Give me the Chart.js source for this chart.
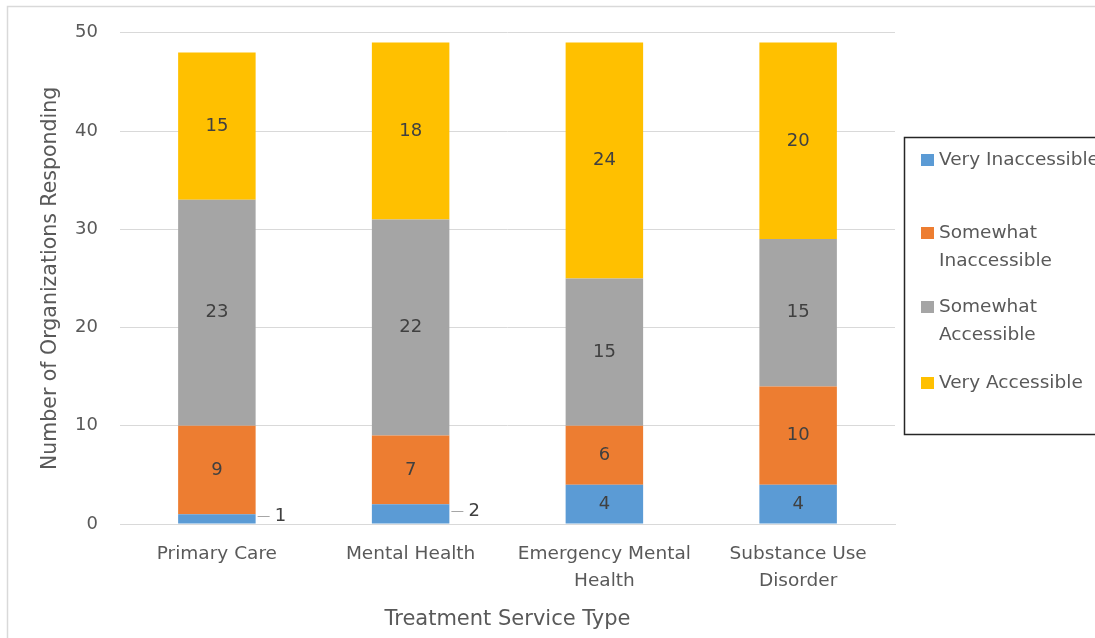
<!DOCTYPE html>
<html>
<head>
<meta charset="utf-8">
<script src="https://cdn.jsdelivr.net/npm/chart.js@4.4.0/dist/chart.umd.min.js"></script>
<style>
  html, body { margin: 0; padding: 0; background: #fff; }
  #wrap { width: 1095px; height: 638px; position: relative; }
</style>
</head>
<body>
<div id="wrap"><canvas id="chart"></canvas></div>
<script>
// service types along the x axis
var categories = [
    'Primary Care',
    'Mental Health',
    ['Emergency Mental', 'Health'],
    ['Substance Use', 'Disorder']
];

// responses per accessibility rating
var veryInaccessible = [1, 2, 4, 4];
var somewhatInaccessible = [9, 7, 6, 10];
var somewhatAccessible = [23, 22, 15, 15];
var veryAccessible = [15, 18, 24, 20];

var seriesNames = ['Very Inaccessible', 'Somewhat Inaccessible', 'Somewhat Accessible', 'Very Accessible'];
var legendLines = [
    ['Very Inaccessible'],
    ['Somewhat', 'Inaccessible'],
    ['Somewhat', 'Accessible'],
    ['Very Accessible']
];
var yTicks = [0, 10, 20, 30, 40, 50];

var colors = [
    '#5B9BD5', // very inaccessible
    '#ED7D31', // somewhat inaccessible
    '#A5A5A5', // somewhat accessible
    '#FFC000'  // very accessible
];

var FONT = "'DejaVu Sans', 'Open Sans', sans-serif";
var TEXT = '#595959';

// value labels in the middle of each segment, tiny ones pulled out to the right
var segmentLabels = {
    id: 'segmentLabels',
    afterDatasetsDraw: function (chart) {
        var ctx = chart.ctx;
        ctx.save();
        ctx.font = '18px ' + FONT;
        ctx.textBaseline = 'middle';
        ctx.fillStyle = '#404040';
        chart.data.datasets.forEach(function (ds, i) {
            var meta = chart.getDatasetMeta(i);
            meta.data.forEach(function (bar, j) {
                var v = ds.data[j];
                var p = bar.getProps(['x', 'y', 'base', 'width'], true);
                var cy = (p.y + p.base) / 2;
                if (v < 3) {
                    var x0 = p.x + p.width / 2;
                    var ly = Math.round(cy - 3) + 0.5;
                    ctx.strokeStyle = '#A6A6A6';
                    ctx.lineWidth = 1;
                    ctx.beginPath();
                    ctx.moveTo(x0 + 2, ly);
                    ctx.lineTo(x0 + 14, ly);
                    ctx.stroke();
                    ctx.textAlign = 'left';
                    ctx.fillText(String(v), x0 + 19, ly);
                } else {
                    ctx.textAlign = 'center';
                    ctx.fillText(String(v), p.x, cy);
                }
            });
        });
        ctx.restore();
    }
};

// boxed legend on the right plus the thin outer frame
var sideLegend = {
    id: 'sideLegend',
    afterDraw: function (chart) {
        var ctx = chart.ctx;
        var area = chart.chartArea;
        ctx.save();
        ctx.strokeStyle = '#D9D9D9';
        ctx.lineWidth = 1.5;
        ctx.beginPath();
        ctx.moveTo(7.5, chart.height + 5);
        ctx.lineTo(7.5, 6.5);
        ctx.lineTo(chart.width + 5, 6.5);
        ctx.stroke();

        var bx = area.right + 9, by = 137, bh = 297;
        ctx.strokeStyle = '#262626';
        ctx.lineWidth = 1.5;
        ctx.strokeRect(bx + 0.5, by + 0.5, 220, bh);

        ctx.font = '18.5px ' + FONT;
        ctx.textBaseline = 'middle';
        ctx.textAlign = 'left';
        var rows = [160, 233, 307, 383];
        chart.data.datasets.forEach(function (ds, i) {
            var y = rows[i];
            ctx.fillStyle = ds.backgroundColor;
            ctx.fillRect(bx + 17, y - 6, 13, 12);
            ctx.fillStyle = TEXT;
            legendLines[i].forEach(function (line, k) {
                ctx.fillText(line, bx + 35, y + k * 28);
            });
        });
        ctx.restore();
    }
};

var series = [veryInaccessible, somewhatInaccessible, somewhatAccessible, veryAccessible];

new Chart(document.getElementById('chart'), {
    type: 'bar',
    data: {
        labels: categories,
        datasets: series.map(function (values, i) {
            return {
                label: seriesNames[i],
                data: values,
                backgroundColor: colors[i],
                borderWidth: 0,
                barPercentage: 0.4,
                categoryPercentage: 1
            };
        })
    },
    options: {
        responsive: true,
        maintainAspectRatio: false,
        animation: false,
        layout: { padding: { top: 24, right: 200, left: 38, bottom: 6 } },
        plugins: {
            legend: { display: false },
            tooltip: { enabled: false }
        },
        scales: {
            x: {
                stacked: true,
                afterFit: function (axis) { axis.height = 108; },
                grid: { display: false },
                border: { color: '#D9D9D9', width: 1 },
                ticks: {
                    color: TEXT,
                    font: { family: FONT, size: 18.5, lineHeight: 1.46 },
                    padding: 9,
                    maxRotation: 0,
                    autoSkip: false
                },
                title: {
                    display: true,
                    text: 'Treatment Service Type',
                    color: TEXT,
                    font: { family: FONT, size: 21 },
                    padding: 0
                }
            },
            y: {
                stacked: true,
                min: 0,
                max: 50,
                afterBuildTicks: function (axis) {
                    axis.ticks = yTicks.map(function (v) { return { value: v }; });
                },
                afterFit: function (axis) { axis.width = 82; },
                grid: { color: '#D9D9D9', drawTicks: false },
                border: { display: false },
                ticks: {
                    color: TEXT,
                    font: { family: FONT, size: 18 },
                    padding: 22
                },
                title: {
                    display: true,
                    text: 'Number of Organizations Responding',
                    color: TEXT,
                    font: { family: FONT, size: 20.5 },
                    padding: 0
                }
            }
        }
    },
    plugins: [segmentLabels, sideLegend]
});
</script>
</body>
</html>
